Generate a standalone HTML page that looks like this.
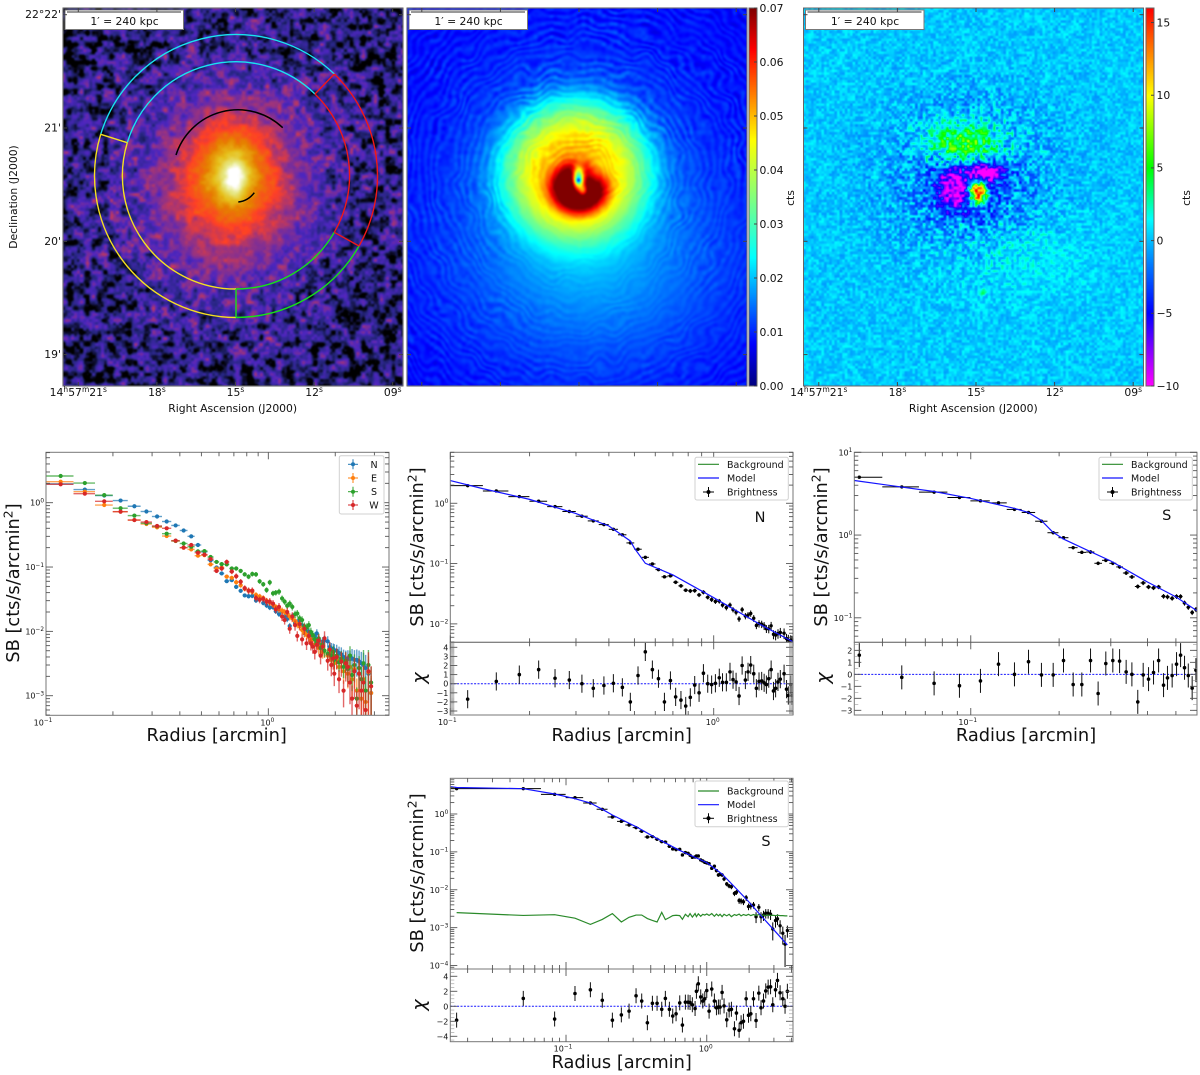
<!DOCTYPE html>
<html lang="en">
<head>
<meta charset="utf-8">
<title>X-ray images and surface brightness profiles</title>
<style>
html,body{margin:0;padding:0;background:#fff;}
#figure{position:relative;width:1200px;height:1075px;overflow:hidden;background:#fff;font-family:"DejaVu Sans","Liberation Sans",sans-serif;}
canvas{position:absolute;display:block;}
#img1,#img2{filter:blur(.6px);}
#img3{filter:blur(.3px);}
#overlay{position:absolute;left:0;top:0;}
#overlay text{font-family:"DejaVu Sans","Liberation Sans",sans-serif;fill:#111;}
</style>
</head>
<body>
<div id="figure">
<canvas id="img1" width="340" height="378" style="left:63px;top:8px"></canvas>
<canvas id="img2" width="340" height="378" style="left:407px;top:8px"></canvas>
<canvas id="cb2" width="8" height="378" style="left:749px;top:8px"></canvas>
<canvas id="img3" width="340" height="378" style="left:803.5px;top:8px"></canvas>
<canvas id="cb3" width="8" height="378" style="left:1146px;top:8px"></canvas>
<svg id="overlay" width="1200" height="1075" viewBox="0 0 1200 1075" xmlns="http://www.w3.org/2000/svg">
  <g fill="none" stroke="#666" stroke-width="1">
    <rect x="63" y="8" width="340" height="378"/>
    <rect x="407" y="8" width="340" height="378"/>
    <rect x="803.5" y="8" width="340" height="378"/>
    <rect x="749" y="8" width="8" height="378"/>
    <rect x="1146" y="8" width="8" height="378"/>
  </g>
  <g fill="none" stroke-width="1.4">
    <path d="M100.7 134.3A141.8 141.8 0 0 1 334.3 74" stroke="#19e3f0"/>
    <path d="M334.3 74A141.8 141.8 0 0 1 359 246" stroke="#f01818"/>
    <path d="M359 246A141.8 141.8 0 0 1 236 317.5" stroke="#18e018"/>
    <path d="M236 317.5A141.8 141.8 0 0 1 100.7 134.3" stroke="#f5e020"/>
    <path d="M127.3 142.7A113.3 113.3 0 0 1 315 94" stroke="#19e3f0"/>
    <path d="M315 94A113.3 113.3 0 0 1 334.3 232.3" stroke="#f01818"/>
    <path d="M334.3 232.3A113.3 113.3 0 0 1 236 289" stroke="#18e018"/>
    <path d="M236 289A113.3 113.3 0 0 1 127.3 142.7" stroke="#f5e020"/>
    <path d="M100.7 134.3L127.3 142.7" stroke="#f5e020"/>
    <path d="M334.3 74L315 94" stroke="#f01818"/>
    <path d="M359 246L334.3 232.3" stroke="#f01818"/>
    <path d="M236 289L236 317.5" stroke="#18e018"/>
    <path d="M176 155A65 65 0 0 1 282.7 127.7" stroke="#000" stroke-width="1.5"/>
    <path d="M238.3 202Q248 201 254.3 192.7" stroke="#000" stroke-width="1.5"/>
  </g>
  <g>
    <rect x="65" y="10" width="118.5" height="19.5" fill="#fff" stroke="#777"/>
    <line x1="67" x2="181" y1="12" y2="12" stroke="#333"/>
    <text x="124.5" y="25" font-size="10.8" text-anchor="middle">1′&#160;=&#160;240 kpc</text>
  </g>
  <g>
    <rect x="409" y="10" width="118.5" height="19.5" fill="#fff" stroke="#777"/>
    <line x1="411" x2="525" y1="12" y2="12" stroke="#333"/>
    <text x="468.5" y="25" font-size="10.8" text-anchor="middle">1′&#160;=&#160;240 kpc</text>
  </g>
  <g>
    <rect x="805.5" y="10" width="118.5" height="19.5" fill="#fff" stroke="#777"/>
    <line x1="807.5" x2="921.5" y1="12" y2="12" stroke="#333"/>
    <text x="865" y="25" font-size="10.8" text-anchor="middle">1′&#160;=&#160;240 kpc</text>
  </g>
  <text x="232.7" y="412" font-size="10.8" text-anchor="middle">Right Ascension (J2000)</text>
  <text x="973.3" y="412" font-size="10.8" text-anchor="middle">Right Ascension (J2000)</text>
  <text transform="translate(17,197) rotate(-90)" font-size="10.8" text-anchor="middle">Declination (J2000)</text>
  <text transform="translate(794,198) rotate(-90)" font-size="10.8" text-anchor="middle">cts</text>
  <text transform="translate(1190,198) rotate(-90)" font-size="10.8" text-anchor="middle">cts</text>
</svg>
</div>
<script>
/* ---------- image panel components: centre x, centre y, sigma x, sigma y, amplitude (image pixels) ---------- */
const xrayBase = 0.09;
const xrayComponents = [[171,170,9,13,0.3],[169,162,28,34,0.27],[165,180,56,68,0.3],[169,172,130,130,0.11]];
const modelBase = 0.007;
const modelComponents = [[168,164,55,55,0.012],[171,170,4,8,-0.05],[171,172,2,2,-0.02],[186,165,10,9,-0.012],[176,182,3,4,-0.02],[188,262,90,70,0.007],[170,182,150,150,0.004]];
const modelDisks = [[168,162,72,70,0.027],[171.5,179.5,29,26,0.03]];
const residualBase = 0.3;
const residualComponents = [[160,135,25,14,7],[150,178,11,14,-7],[180,165,11,6,-11],[173,183,6,8,20],[165,182,32,26,-3],[165,165,70,60,-1.2],[214,245,50,30,1.1],[179,284,2,2,4]];

/* ---------- image panel ticks ---------- */
const raTickSeconds = [21,18,15,12,9];
const raTickLabels = ['21','18','15','12','09'];
const decTickMinutes = [22,21,20,19];
const decTickLabels = ["22°22'","21'","20'","19'"];
const modelColorbarTicks = [0,0.01,0.02,0.03,0.04,0.05,0.06,0.07];
const modelColorbarLabels = ['0.00','0.01','0.02','0.03','0.04','0.05','0.06','0.07'];
const residualColorbarTicks = [-10,-5,0,5,10,15];
const residualColorbarLabels = ['−10','−5','0','5','10','15'];

/* ---------- profile N ---------- */
const radiusN = [.1164,.1495,.1828,.2165,.2498,.283,.316,.349,.383,.416,.45,.4825,.516,.55,.585,.617,.65,.685,.717,.751,.783,.815,.847,.88,.914,.949,.982,1.015,1.05,1.08,1.117,1.153,1.184,1.216,1.248,1.282,1.319,1.35,1.382,1.419,1.452,1.486,1.521,1.554,1.585,1.618,1.652,1.686,1.718,1.754,1.79,1.85,1.89,1.92,1.96,1.98];
const sbN = [1.96,1.6,1.29,1.08,.88,.73,.61,.51,.443,.37,.30,.22,.173,.127,.0986,.0795,.0603,.0625,.0491,.0427,.0362,.0352,.0356,.0302,.0335,.0276,.0253,.0235,.0238,.0205,.0186,.0205,.0172,.0156,.0121,.0172,.0135,.014,.0149,.0124,.0094,.0101,.0099,.0093,.0083,.0083,.0093,.0067,.0065,.0069,.0072,.007,.0057,.0054,.0053,.0051];
const chiN = [-1.7,.25,1.0,1.55,.6,.4,0,-.5,-.2,.05,-.4,-2,.9,3.5,1.55,.55,-2,.35,-1.45,-1.8,-2.45,-1.5,-.15,-1.0,1.15,0,-.1,.05,.65,.15,.15,1.3,.45,.2,-1.35,2.0,.4,1.3,2.05,1.1,-.5,.25,.3,.1,-.1,.55,1.55,-.8,-.5,.2,.5,1.1,-.6,-1.3,-.1,-1.3];
const modelRadiusN = [.1,.1327,.2,.3,.4,.4825,.5,.55,.7,1,1.5,2.0];
const modelSbN = [2.38,1.75,1.16,.674,.42,.237,.18,.101,.0648,.0272,.0098,.00504];

/* ---------- four-sector comparison ---------- */
const radiusTail = [2.03,2.08,2.13,2.18,2.23,2.28,2.33,2.38,2.44,2.5,2.56,2.62,2.68,2.74,2.82,2.9];
const sbNorthTail = [.005,.0046,.0044,.004,.0038,.0038,.0037,.0038,.0036,.0036,.0034,.0032,.003,.0027,.0022,.0011];
const sbEast = [2.12,1.48,.92,.725,.537,.466,.414,.303,.254,.2,.188,.15,.153,.11,.095,.098,.071,.068,.058,.052,.046,.043,.041,.037,.035,.033,.03,.028,.026,.024,.022,.021,.02,.019,.017,.016,.0145,.013,.012,.0105,.0095,.0088,.0082,.0072,.0075,.0062,.0065,.0055,.0058,.0048,.005,.0042,.0045,.0036,.0042,.0032,.0036,.0028,.0034,.0024,.003,.0022,.0028,.0018,.0026,.0012,.0022,.0009,.0018,.0008,.0023,.0011];
const sbSouth = [2.6,2.02,1.31,.82,.63,.48,.43,.33,.255,.232,.207,.175,.177,.143,.12,.111,.11,.095,.095,.087,.077,.071,.078,.077,.06,.054,.044,.0577,.039,.04,.0414,.0325,.029,.025,.027,.024,.0185,.019,.016,.015,.012,.0115,.0125,.0098,.0088,.0075,.0068,.0078,.0055,.0062,.005,.0045,.0052,.0042,.0048,.0036,.0042,.0033,.0038,.0028,.0035,.0026,.0042,.0021,.003,.0009,.0027,.0018,.0032,.0012,.003,.0016];
const sbWest = [1.93,1.38,1.05,.725,.537,.5,.434,.4,.257,.2,.22,.167,.156,.133,.087,.095,.12,.085,.072,.059,.047,.043,.043,.033,.031,.032,.029,.029,.027,.022,.024,.017,.015,.02,.011,.017,.0125,.0085,.013,.0075,.011,.0065,.0085,.0065,.0058,.0048,.0062,.0072,.0042,.0058,.0078,.0035,.0052,.003,.0038,.0022,.004,.0018,.0034,.0012,.0032,.0028,.0016,.0009,.0024,.0007,.0022,.0012,.0016,.0006,.0024,.0014];
const relErrBins = [.03,.03,.03,.03,.03,.03,.03,.035,.04,.04,.04,.045,.05,.05,.05,.06,.06,.06,.07,.07,.07,.08,.08,.08,.08,.08,.09,.09,.09,.09,.1,.1,.1,.11,.11,.11,.12,.12,.12,.13,.13,.14,.14,.15,.15,.16,.16,.17,.18,.18,.19,.2,.2,.22,.22,.24,.24,.26,.28,.3,.32,.34,.36,.4,.42,.45,.48,.5,.55,.6,.65,.7];
const sectorNames = ['N','E','S','W'];
const sectorErrScale = [1,1.2,1.1,1.5];

/* ---------- profile S (inner zoom) ---------- */
const radiusS1 = [.0417,.0582,.075,.0915,.1079,.1243,.1409,.1573,.1741,.1909,.207,.2233,.239,.2559,.2716,.2885,.3048,.3214,.3384,.354,.3707,.3868,.4034,.4195,.4365,.4538,.468,.4855,.5025,.5187,.535,.551,.568,.585];
const sbS1 = [5.0,3.82,3.3,2.84,2.59,2.45,2.04,1.875,1.47,1.067,.929,.704,.618,.624,.456,.495,.456,.412,.348,.312,.239,.264,.236,.23,.236,.182,.179,.172,.181,.181,.151,.134,.116,.126];
const chiS1 = [1.6,-.25,-.75,-.95,-.55,.85,0,1.05,-.05,-.05,1.15,-.85,-.85,1.15,-1.6,.9,1.15,1.1,.2,0,-2.3,-.05,-.4,.15,1.15,-.9,-.3,-.1,.85,1.6,.55,-.1,-1.15,.35];
const relErrS1 = [.03,.03,.03,.03,.03,.03,.035,.035,.04,.04,.04,.045,.045,.05,.05,.05,.05,.05,.055,.055,.06,.06,.06,.06,.06,.065,.065,.065,.065,.065,.07,.07,.07,.07];
const modelRadiusS1 = [.0401,.075,.1,.14,.157,.174,.19,.207,.25,.3,.4,.5,.593];
const modelSbS1 = [4.56,3.36,2.77,2.11,1.875,1.5,1.09,.895,.654,.486,.271,.179,.12];

/* ---------- profile S (full range) ---------- */
const radiusS2 = [.0167,.0497,.083,.1158,.149,.181,.2135,.2473,.2805,.3145,.345,.3785,.411,.4436,.4787,.508,.5427,.573,.6053,.6427,.6714,.705,.737,.761,.79,.826,.8445,.871,.906,.937,.968,1.0,1.039,1.085,1.133,1.172,1.21,1.244,1.285,1.327,1.387,1.442,1.497,1.573,1.625,1.698,1.754,1.823,1.905,1.98,2.056,2.148,2.24,2.344,2.43,2.53,2.625,2.73,2.84,2.945,3.08,3.18,3.32,3.47,3.6,3.74];
const sbS2 = [4.66,4.66,3.3,2.7,1.95,1.33,.833,.64,.512,.436,.349,.247,.252,.2147,.186,.182,.14,.1195,.1147,.1166,.083,.0955,.0916,.0812,.0717,.0732,.0781,.0781,.0612,.0575,.053,.051,.0488,.0368,.0418,.032,.0246,.0257,.0246,.0192,.0142,.0126,.012,.008,.0086,.00517,.00505,.0048,.00618,.00361,.00378,.00397,.00194,.00345,.00194,.00215,.00241,.00241,.00227,.00092,.00154,.00171,.00112,.000712,.000366,.000838];
const chiS2 = [-1.85,1.05,-1.7,1.7,2.2,.8,-1.85,-1.15,-.65,1.4,.7,-2.2,.4,.4,-.4,1.05,-.4,-1.3,-1.0,.45,-2.5,.55,.55,.5,.2,-.3,2.0,3.0,1.25,.7,1.0,2.1,-.65,2.3,.7,-.2,-.1,-.1,1.85,.05,-1.8,-.5,-.4,-3.0,-.9,-3.2,-2.2,-2.0,1.0,-1.2,-1.0,1.0,-1.9,1.75,-.2,.7,2.05,2.55,2.6,.2,2.2,3.45,1.8,1.0,0,2.0];
const backgroundS2 = [.00249,.0021,.0022,.00178,.00122,.00165,.00235,.00141,.00188,.00215,.00215,.00174,.00155,.00141,.00254,.00163,.00185,.00208,.00212,.00208,.00166,.00225,.00195,.00235,.0019,.00235,.00195,.00232,.002,.00225,.00215,.0023,.0021,.00235,.002,.00228,.00205,.00225,.00195,.00225,.00205,.00225,.00195,.00222,.0021,.00228,.00205,.00222,.0021,.00225,.00208,.00222,.0021,.00222,.00208,.00215,.00208,.00215,.0021,.00212,.00208,.00212,.00208,.00208,.00205,.00205];
const relErrS2 = [.03,.03,.03,.03,.03,.03,.04,.04,.04,.04,.05,.05,.05,.05,.05,.05,.06,.06,.06,.06,.07,.07,.07,.07,.07,.08,.08,.08,.08,.08,.09,.09,.09,.1,.1,.1,.11,.11,.11,.12,.13,.13,.14,.15,.15,.18,.18,.18,.18,.2,.2,.2,.32,.22,.32,.3,.28,.28,.3,.5,.35,.32,.4,.5,.75,.35];
const modelRadiusS2 = [.01506,.0167,.0497,.083,.1158,.149,.181,.2135,.3145,.44,.64,1.0,1.285,1.573,1.98,2.344,2.945,3.74];
const modelSbS2 = [5.26,5.0,4.66,3.37,2.54,1.95,1.33,.94,.463,.228,.11,.052,.026,.012,.0049,.0024,.00094,.00035];

const chiErrorBar = 1;
const legendFitEntries = ['Background','Model','Brightness'];
const chiTicksN = [-3,-2,-1,0,1,2,3,4];
const chiTicksS1 = [-3,-2,-1,0,1,2];
const chiTicksS2 = [-4,-2,0,2,4];

/* ---------- colour maps ---------- */
const cmrStops = [[0,0,0,0],[.125,38,38,128],[.25,77,38,191],[.375,153,51,128],[.5,255,64,38],[.625,230,128,0],[.75,230,191,26],[.875,230,230,128],[1,255,255,255]];
const jetStops = [[0,0,0,128],[.11,0,0,255],[.34,0,255,255],[.65,255,255,0],[.89,255,0,0],[1,128,0,0]];
const rainbowStops = [[0,255,0,255],[.096,128,0,255],[.192,0,0,255],[.308,0,110,255],[.385,0,190,255],[.44,0,255,255],[.5,0,255,140],[.577,0,255,0],[.769,255,255,0],[.885,255,128,0],[1,255,0,0]];
function colorAt(stops,t){
  t=Math.max(0,Math.min(1,t));
  for(let i=1;i<stops.length;i++){
    if(t<=stops[i][0]){
      const a=stops[i-1],b=stops[i],f=(t-a[0])/(b[0]-a[0]);
      return [a[1]+(b[1]-a[1])*f,a[2]+(b[2]-a[2])*f,a[3]+(b[3]-a[3])*f];
    }
  }
  const l=stops[stops.length-1];
  return [l[1],l[2],l[3]];
}

/* ---------- image texture (seeded, decorative grain only) ---------- */
function makeNoise(seed,cell,w,h){
  let s=seed>>>0;
  function rnd(){s=(s+0x6D2B79F5)>>>0;let t=s;t=Math.imul(t^(t>>>15),t|1);t^=t+Math.imul(t^(t>>>7),t|61);return((t^(t>>>14))>>>0)/4294967296;}
  const cols=Math.ceil(w/cell)+2,rows=Math.ceil(h/cell)+2,g=new Float32Array(cols*rows);
  for(let i=0;i<g.length;i++)g[i]=rnd();
  return function(x,y){
    const fx=x/cell,fy=y/cell,ix=Math.floor(fx),iy=Math.floor(fy);
    let u=fx-ix,v=fy-iy;u=u*u*(3-2*u);v=v*v*(3-2*v);
    const a=g[iy*cols+ix],b=g[iy*cols+ix+1],c=g[(iy+1)*cols+ix],d=g[(iy+1)*cols+ix+1];
    return (a+(b-a)*u)*(1-v)+(c+(d-c)*u)*v-0.5;
  };
}
function gaussSum(list,x,y){
  let v=0;
  for(const c of list){const dx=(x-c[0])/c[2],dy=(y-c[1])/c[3];v+=c[4]*Math.exp(-.5*(dx*dx+dy*dy));}
  return v;
}
function diskSum(list,x,y){
  let v=0;
  for(const c of list){const dx=(x-c[0])/c[2],dy=(y-c[1])/c[3],d=dx*dx+dy*dy;v+=c[4]*Math.exp(-d*d);}
  return v;
}
function paint(id,fn){
  const cv=document.getElementById(id),ctx=cv.getContext('2d'),w=cv.width,h=cv.height,im=ctx.createImageData(w,h);
  for(let y=0;y<h;y++)for(let x=0;x<w;x++){
    const c=fn(x,y),p=(y*w+x)*4;
    im.data[p]=c[0];im.data[p+1]=c[1];im.data[p+2]=c[2];im.data[p+3]=255;
  }
  ctx.putImageData(im,0,0);
}
const n1a=makeNoise(11,6,340,378),n1b=makeNoise(23,3,340,378);
paint('img1',(x,y)=>{
  const v=xrayBase+gaussSum(xrayComponents,x,y);
  const amp=v<.18?.27:(v<.34?.27-(v-.18)*1.1:Math.max(.05,.094-(v-.34)*.17));
  return colorAt(cmrStops,v+n1a(x,y)*amp*1.4+n1b(x,y)*amp*.7);
});
const n2a=makeNoise(37,4,340,378),n2b=makeNoise(41,16,340,378),n2c=makeNoise(43,30,340,378);
paint('img2',(x,y)=>{
  const dx=x-170,dy=y-176,r=Math.hypot(dx,dy),th=Math.atan2(dy,dx);
  const south=Math.exp(-.5*Math.pow((y-270)/70,2))*Math.exp(-.5*Math.pow((x-190)/110,2));
  const env=Math.min(1,r/40)*(1-.75*south)*(.55+1.6*Math.abs(n2c(x,y)));
  const ripple=Math.sin(r/1.25+11*n2b(x,y)+2.5*Math.sin(3*th))*.0016*env;
  const v=modelBase+gaussSum(modelComponents,x,y)+diskSum(modelDisks,x,y)+ripple+n2a(x,y)*.003*env;
  return colorAt(jetStops,v/.07);
});
const n3a=makeNoise(53,2.6,340,378),n3b=makeNoise(61,6,340,378);
paint('img3',(x,y)=>{
  const d=Math.hypot(x-165,y-170);
  const env=1+3.6*Math.exp(-.5*(d/50)*(d/50));
  const v=residualBase+gaussSum(residualComponents,x,y)+(n3a(x,y)*2.2+n3b(x,y)*.4)*env;
  return colorAt(rainbowStops,(v+10)/26);
});
paint('cb2',(x,y)=>colorAt(jetStops,1-y/377));
paint('cb3',(x,y)=>colorAt(rainbowStops,1-y/377));

/* ---------- svg helpers ---------- */
const NS='http://www.w3.org/2000/svg';
const root=document.getElementById('overlay');
function mk(tag,attrs,parent){
  const n=document.createElementNS(NS,tag);
  for(const k in attrs)n.setAttribute(k,attrs[k]);
  (parent||root).appendChild(n);
  return n;
}
function group(name,parent){
  const g=mk('g',{},parent);
  
  
  return g;
}
function label(parent,x,y,str,size,anchor,name){
  const t=mk('text',{x:x,y:y,'font-size':size,'text-anchor':anchor},parent);
  
  
  t.textContent=str;
  return t;
}
function sup(textNode,str,size,dy){
  const s=mk('tspan',{'font-size':size,dy:dy},textNode);
  s.textContent=str;
  return s;
}
function powerLabel(parent,x,y,exp,size,anchor,name){
  const t=label(parent,x,y,'10',size,anchor,name);
  sup(t,String(exp).replace('-','−'),size*.72,-size*.4);
  return t;
}

/* ---------- image panel axes ---------- */
function raX(offset,sec){return offset+(15-sec)*26.2;}
function decY(min){return 128+(21-min)*113.3;}
function drawRaAxis(offset,T,B,withLabels,name){
  const g=group(name);
  raTickSeconds.forEach((s,i)=>{
    const x=raX(offset,s);
    const tb=mk('line',{x1:x,x2:x,y1:B,y2:B-4,stroke:'#444'},g);
    
    
    const tt=mk('line',{x1:x,x2:x,y1:T,y2:T+4,stroke:'#444'},g);
    
    
    if(withLabels){
      const prefix=i===0;
      const t=label(g,x,396,prefix?'14':raTickLabels[i],10.8,'middle','ra-tick-label');
      if(prefix){
        sup(t,'h',7.5,-3.8);
        const a=mk('tspan',{dy:3.8},t);a.textContent='57';
        sup(t,'m',7.5,-3.8);
        const b=mk('tspan',{dy:3.8},t);b.textContent=raTickLabels[i];
      }
      sup(t,'s',7.5,-3.8);
    }
  });
}
function drawDecAxis(L,R,withLabels,name){
  const g=group(name);
  decTickMinutes.forEach((m,i)=>{
    const y=decY(m);
    const a=mk('line',{x1:L,x2:L+4,y1:y,y2:y,stroke:'#444'},g);
    
    
    const b=mk('line',{x1:R,x2:R-4,y1:y,y2:y,stroke:'#444'},g);
    
    
    if(withLabels)label(g,L-2,y+3.5,decTickLabels[i],10.8,'end','dec-tick-label');
  });
}
drawRaAxis(235.5,8,386,true,'ra-axis-xray');
drawDecAxis(63,403,true,'dec-axis-xray');
drawRaAxis(579,8,386,false,'ra-axis-model');
drawDecAxis(407,747,false,'dec-axis-model');
drawRaAxis(976,8,386,true,'ra-axis-residual');
drawDecAxis(803.5,1143.5,false,'dec-axis-residual');
function drawColorbarAxis(left,vmin,vmax,ticks,labels,name){
  const g=group(name);
  ticks.forEach((v,i)=>{
    const y=386-(v-vmin)/(vmax-vmin)*378;
    const t=mk('line',{x1:left+8,x2:left+5,y1:y,y2:y,stroke:'#444'},g);
    
    
    label(g,left+10.5,y+3.8,labels[i],10.8,'start','colorbar-tick-label');
  });
}
drawColorbarAxis(749,0,.07,modelColorbarTicks,modelColorbarLabels,'model-colorbar-axis');
drawColorbarAxis(1146,-10,16,residualColorbarTicks,residualColorbarLabels,'residual-colorbar-axis');

/* ---------- log axis machinery ---------- */
function logScale(vmin,vmax,p0,p1){
  const a=Math.log10(vmin),b=Math.log10(vmax);
  return v=>p0+(Math.log10(v)-a)/(b-a)*(p1-p0);
}
function linScale(vmin,vmax,p0,p1){
  return v=>p0+(v-vmin)/(vmax-vmin)*(p1-p0);
}
function logTicks(vmin,vmax){
  const out=[];
  for(let k=Math.floor(Math.log10(vmin));k<=Math.ceil(Math.log10(vmax));k++){
    for(let m=1;m<10;m++){
      const v=m*Math.pow(10,k);
      if(v>=vmin*0.9999&&v<=vmax*1.0001)out.push({v:v,major:m===1,k:k});
    }
  }
  return out;
}
function tickLine(g,x1,y1,x2,y2,name,faint){
  const t=mk('line',{x1:x1,y1:y1,x2:x2,y2:y2,stroke:faint?'#999':'#555','stroke-width':faint?.6:.9},g);
  
  
}
function drawXTicks(g,sx,xlim,T,B,withLabels){
  logTicks(xlim[0],xlim[1]).forEach(t=>{
    const x=sx(t.v),len=t.major?7:4;
    tickLine(g,x,B,x,B-len,'x-tick');
    tickLine(g,x,T,x,T+len,'x-tick-top');
    if(withLabels&&t.major)powerLabel(g,x-(t.k<0?3:1),B+10,t.k,8,'middle','x-tick-label');
  });
}
function drawYLogTicks(g,sy,ylim,L,R){
  logTicks(ylim[0],ylim[1]).forEach(t=>{
    const y=sy(t.v),len=t.major?7:4;
    tickLine(g,L,y,L+len,y,'y-tick');
    tickLine(g,R,y,R-len,y,'y-tick-right');
    if(t.major)powerLabel(g,L-2,y+3,t.k,8,'end','y-tick-label');
  });
}
function frame(g,L,T,R,B,name){
  const r=mk('rect',{x:L,y:T,width:R-L,height:B-T,fill:'none',stroke:'#777','stroke-width':1},g);
  
  
}
let clipCount=0;
function clipRect(L,T,R,B){
  const id='clip'+(++clipCount);
  const cp=mk('clipPath',{id:id});
  mk('rect',{x:L,y:T,width:R-L,height:B-T},cp);
  return 'url(#'+id+')';
}
function binEdges(r,i){
  const lo=i===0?r[0]-(r[1]-r[0])/2:(r[i-1]+r[i])/2;
  const n=r.length-1;
  const hi=i===n?r[n]+(r[n]-r[n-1])/2:(r[i]+r[i+1])/2;
  return [Math.max(lo,1e-4),hi];
}
function drawProfile(g,r,sb,rel,sx,sy,color,opts){
  const o=opts||{};
  r.forEach((rv,i)=>{
    const val=sb[i];
    const e=val*rel[i]*(o.errScale||1);
    const ed=binEdges(r,i);
    const x=sx(rv),y=sy(val);
    const h=mk('line',{x1:sx(ed[0]),x2:sx(ed[1]),y1:y,y2:y,stroke:color,'stroke-width':o.lw||1,'stroke-opacity':o.alpha||1},g);
    
    
    const v=mk('line',{x1:x,x2:x,y1:sy(Math.max(val-e,1e-6)),y2:sy(val+e),stroke:color,'stroke-width':o.lw||1,'stroke-opacity':o.alpha||1},g);
    
    
    const c=mk('circle',{cx:x,cy:y,r:o.size||1.7,fill:color},g);
    
    
  });
}
function drawCurve(g,r,sb,sx,sy,color,lw,name){
  const d=r.map((v,i)=>(i?'L':'M')+sx(v).toFixed(2)+' '+sy(sb[i]).toFixed(2)).join('');
  const p=mk('path',{d:d,fill:'none',stroke:color,'stroke-width':lw},g);
  
  
}
function drawChi(g,r,chi,sx,sy,L,R){
  const z=mk('line',{x1:L,x2:R,y1:sy(0),y2:sy(0),stroke:'#1414ff','stroke-width':1,'stroke-dasharray':'2 1.4'},g);
  
  
  r.forEach((rv,i)=>{
    const x=sx(rv);
    const v=mk('line',{x1:x,x2:x,y1:sy(chi[i]-chiErrorBar),y2:sy(chi[i]+chiErrorBar),stroke:'#111','stroke-width':1},g);
    
    
    const c=mk('circle',{cx:x,cy:sy(chi[i]),r:1.8,fill:'#000'},g);
    
    
  });
}
function yTitle(g,x,y){
  const t=mk('text',{transform:'translate('+x+','+y+') rotate(-90)','font-size':17.8,'text-anchor':'middle'},g);
  
  
  t.textContent='SB [cts/s/arcmin';
  sup(t,'2',12.4,-6.5);
  const e=mk('tspan',{dy:6.5},t);
  e.textContent=']';
}
function errorHandle(g,x1,x2,y,color){
  const h=mk('line',{x1:x1,x2:x2,y1:y,y2:y,stroke:color,'stroke-width':1},g);
  
  
  const xm=(x1+x2)/2;
  const v=mk('line',{x1:xm,x2:xm,y1:y-5,y2:y+5,stroke:color,'stroke-width':1},g);
  
  
  const c=mk('circle',{cx:xm,cy:y,r:2,fill:color},g);
  
  
}
function fitLegend(parent,bx,by,bw,bh,rowY){
  const g=group('legend',parent);
  const r=mk('rect',{x:bx,y:by,width:bw,height:bh,fill:'#fff',stroke:'#d0d0d0','stroke-width':1,rx:2},g);
  
  
  const a=mk('line',{x1:bx+3,x2:bx+24,y1:rowY[0],y2:rowY[0],stroke:'#2a8a2a','stroke-width':1.2},g);
  
  
  const b=mk('line',{x1:bx+3,x2:bx+24,y1:rowY[1],y2:rowY[1],stroke:'#1414ff','stroke-width':1.2},g);
  
  
  errorHandle(g,bx+8,bx+19,rowY[2],'#000');
  legendFitEntries.forEach((s,i)=>label(g,bx+32,rowY[i]+3.5,s,9.5,'start','legend-entry'));
}

/* ---------- four-sector plot ---------- */
(function(){
  const L=46,R=389,T=452.3,B=715.3,xlim=[.1,3.49],ylim=[4.96e-4,6.07];
  const sx=logScale(xlim[0],xlim[1],L,R),sy=logScale(ylim[0],ylim[1],B,T);
  const g=group('sector-comparison-plot');
  const clip=clipRect(L,T,R,B);
  const radii=radiusN.concat(radiusTail);
  const north=sbN.concat(sbNorthTail);
  const all=[north,sbEast,sbSouth,sbWest];
  const colors=['#1f77b4','#ff7f0e','#2ca02c','#d62728'];
  const marks=group('sector-series',g);
  marks.setAttribute('clip-path',clip);
  all.forEach((vals,k)=>{
    const sg=group('series-'+sectorNames[k],marks);
    drawProfile(sg,radii,vals,relErrBins,sx,sy,colors[k],{alpha:.7,lw:1.4,errScale:sectorErrScale[k],size:2.1});
  });
  frame(g,L,T,R,B,'plot-frame');
  drawXTicks(g,sx,xlim,T,B,true);
  drawYLogTicks(g,sy,ylim,L,R);
  label(g,216.7,741,'Radius [arcmin]',17.8,'middle','x-axis-title');
  yTitle(g,19,583);
  const lg=group('legend',g);
  const box=mk('rect',{x:339.3,y:455.7,width:44.7,height:58.3,fill:'#fff',stroke:'#d0d0d0','stroke-width':1,rx:2},lg);
  
  
  const rows=[464.3,478,491.7,505];
  sectorNames.forEach((s,i)=>{
    errorHandle(lg,348,358,rows[i],colors[i]);
    label(lg,374,rows[i]+3.5,s,9.5,'middle','legend-entry');
  });
})();

/* ---------- fit + residual plots ---------- */
function fitPlot(c){
  const g=group(c.name);
  const sx=logScale(c.xlim[0],c.xlim[1],c.L,c.R);
  const sy=logScale(c.ylim[0],c.ylim[1],c.M,c.T);
  const sc=linScale(c.chiLim[0],c.chiLim[1],c.B,c.M);
  const cm=clipRect(c.L,c.T,c.R,c.M);
  const cc=clipRect(c.L,c.M,c.R,c.B);
  const main=group('fit-marks',g);
  main.setAttribute('clip-path',cm);
  drawProfile(main,c.radius,c.sb,c.rel,sx,sy,'#000');
  if(c.background)drawCurve(main,c.radius,c.background,sx,sy,'#2a8a2a',1.2,'background-line');
  drawCurve(main,c.modelR,c.modelS,sx,sy,'#1414ff',1.2,'model-line');
  const res=group('residual-marks',g);
  res.setAttribute('clip-path',cc);
  drawChi(res,c.radius,c.chi,sx,sc,c.L,c.R);
  frame(g,c.L,c.T,c.R,c.M,'main-panel-frame');
  frame(g,c.L,c.M,c.R,c.B,'residual-panel-frame');
  drawXTicks(g,sx,c.xlim,c.T,c.M,false);
  drawXTicks(g,sx,c.xlim,c.M,c.B,true);
  drawYLogTicks(g,sy,c.ylim,c.L,c.R);
  for(let v=Math.ceil(c.chiLim[0]/c.minorStep)*c.minorStep;v<=c.chiLim[1];v+=c.minorStep){
    const y=sc(v);
    tickLine(g,c.L,y,c.L+4,y,'chi-minor-tick',true);
    tickLine(g,c.R,y,c.R-4,y,'chi-minor-tick-right',true);
  }
  c.chiTicks.forEach(v=>{
    const y=sc(v);
    tickLine(g,c.L,y,c.L+7,y,'chi-tick');
    tickLine(g,c.R,y,c.R-7,y,'chi-tick-right');
    label(g,c.L-2,y+3,String(v).replace('-','−'),8,'end','chi-tick-label');
  });
  label(g,c.xTitleX,c.xTitleY,'Radius [arcmin]',17.8,'middle','x-axis-title');
  yTitle(g,c.yTitleX,c.yTitleY);
  const ct=mk('text',{transform:'translate('+c.chiTitleX+','+c.chiTitleY+') rotate(-90)','font-size':19,'font-style':'italic','text-anchor':'middle'},g);
  
  
  ct.textContent='χ';
  fitLegend(g,c.legX,c.legY,93.3,c.legH,c.legRows);
  label(g,c.tagX,c.tagY,c.tag,14.5,'middle','sector-tag');
}
fitPlot({name:'north-profile-plot',L:450.3,R:793,T:452.3,M:642.3,B:715,xlim:[.1,2.0],ylim:[.00495,7.0],chiLim:[-3.44,4.55],minorStep:.1,chiTicks:chiTicksN,
  radius:radiusN,sb:sbN,rel:relErrBins,chi:chiN,modelR:modelRadiusN,modelS:modelSbN,
  xTitleX:621.7,xTitleY:741,yTitleX:423,yTitleY:547,chiTitleX:425,chiTitleY:678,legX:695,legY:457.3,legH:42.7,legRows:[464.3,478,492],tag:'N',tagX:760,tagY:522});
fitPlot({name:'south-profile-plot',L:854.3,R:1197,T:452.3,M:642.3,B:715,xlim:[.0401,.59],ylim:[.0506,10],chiLim:[-3.39,2.67],minorStep:.5,chiTicks:chiTicksS1,
  radius:radiusS1,sb:sbS1,rel:relErrS1,chi:chiS1,modelR:modelRadiusS1,modelS:modelSbS1,
  xTitleX:1026,xTitleY:741,yTitleX:827,yTitleY:547,chiTitleX:829,chiTitleY:678,legX:1099,legY:457.3,legH:42.7,legRows:[464.3,478,492],tag:'S',tagX:1166.7,tagY:520});
fitPlot({name:'south-full-profile-plot',L:450.3,R:793,T:778.3,M:969,B:1041.7,xlim:[.01506,4.1],ylim:[8.1e-5,8.75],chiLim:[-4.72,4.97],minorStep:.5,chiTicks:chiTicksS2,
  radius:radiusS2,sb:sbS2,rel:relErrS2,chi:chiS2,background:backgroundS2,modelR:modelRadiusS2,modelS:modelSbS2,
  xTitleX:621.7,xTitleY:1068,yTitleX:423,yTitleY:873,chiTitleX:425,chiTitleY:1005,legX:695,legY:781,legH:45.7,legRows:[791,804.7,818.3],tag:'S',tagX:766,tagY:846});
</script>
</body>
</html>
